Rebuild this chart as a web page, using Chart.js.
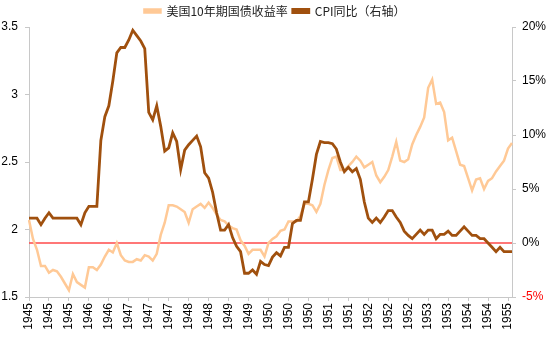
<!DOCTYPE html>
<html>
<head>
<meta charset="utf-8">
<script src="https://cdn.jsdelivr.net/npm/chart.js@4/dist/chart.umd.min.js"></script>
<style>
	html, body { margin: 0; padding: 0; background: #fff; }
	#wrap { width: 550px; height: 337px; }
</style>
</head>
<body>
<div id="wrap"><canvas id="cpi-yield-chart"></canvas></div>
<script>
// monthly, 1945-01 .. 1955-02
const months = [];
for (let i = 0; i < 122; i++) {
	let y = 1945 + Math.floor(i / 12);
	let m = (i % 12) + 1;
	months.push(y + '-' + (m < 10 ? '0' + m : m));
}

// US 10y treasury yield (left axis)
const yield_10y = [
	2.07, 1.93, 1.85, 1.73, 1.73, 1.68, 1.70, 1.69, 1.65, 1.60, 1.55, 1.67,
	1.61, 1.59, 1.57, 1.72, 1.72, 1.70, 1.74, 1.80, 1.85, 1.83, 1.90, 1.81,
	1.77, 1.76, 1.76, 1.78, 1.77, 1.81, 1.80, 1.77, 1.82, 1.96, 2.05, 2.18,
	2.18, 2.17, 2.15, 2.13, 2.05, 2.15, 2.17, 2.19, 2.16, 2.20, 2.16, 2.11,
	2.07, 2.06, 2.03, 2.01, 2.00, 1.92, 1.88, 1.82, 1.85, 1.85, 1.85, 1.80,
	1.90, 1.93, 1.95, 1.99, 2.00, 2.06, 2.06, 2.06, 2.10, 2.19, 2.19, 2.18,
	2.13, 2.19, 2.33, 2.44, 2.53, 2.54, 2.44, 2.44, 2.47, 2.50, 2.54, 2.51,
	2.46, 2.48, 2.50, 2.40, 2.35, 2.39, 2.44, 2.54, 2.65, 2.51, 2.50, 2.52,
	2.63, 2.70, 2.76, 2.83, 3.05, 3.11, 2.93, 2.94, 2.87, 2.66, 2.68, 2.58,
	2.48, 2.47, 2.38, 2.29, 2.37, 2.38, 2.30, 2.36, 2.38, 2.43, 2.47, 2.51,
	2.60, 2.64,
];

// CPI yoy, % (right axis)
const cpi_yoy = [
	2.3, 2.3, 2.3, 1.7, 2.3, 2.8, 2.3, 2.3, 2.3, 2.3, 2.3, 2.3,
	2.3, 1.7, 2.8, 3.4, 3.4, 3.4, 9.5, 11.7, 12.7, 15.0, 17.6, 18.1,
	18.1, 18.8, 19.7, 19.2, 18.7, 18.0, 12.1, 11.4, 12.7, 10.8, 8.5, 8.8,
	10.2, 9.4, 6.8, 8.6, 9.1, 9.5, 9.9, 8.9, 6.5, 6.0, 4.7, 2.8,
	1.2, 1.2, 1.7, 0.5, -0.3, -0.8, -2.8, -2.8, -2.5, -2.9, -1.7, -2.0,
	-2.1, -1.3, -0.9, -1.2, -0.4, -0.4, 1.8, 2.1, 2.1, 3.8, 3.8, 5.9,
	8.2, 9.4, 9.3, 9.3, 9.2, 8.7, 7.5, 6.6, 7.0, 6.6, 6.9, 5.9,
	3.8, 2.3, 1.9, 2.3, 1.9, 2.4, 3.0, 3.0, 2.4, 1.9, 1.1, 0.7,
	0.4, 0.8, 1.2, 0.8, 1.2, 1.2, 0.4, 0.8, 0.8, 1.1, 0.7, 0.7,
	1.1, 1.5, 1.1, 0.7, 0.7, 0.4, 0.4, 0.0, -0.4, -0.8, -0.4, -0.8,
	-0.8, -0.8,
];

const zero_line = months.map(() => 0);

const series_names = ['美国10年期国债收益率', 'CPI同比（右轴）'];

const tick_font = { family: "'Liberation Sans', Arial, sans-serif", size: 12 };
const axis_color = '#c8c8c8';

var ctx = document.getElementById('cpi-yield-chart').getContext('2d');
var chart = new Chart(ctx, {
	type: 'line',
	data: {
		labels: months,
		datasets: [
			{
				label: series_names[0],
				data: yield_10y,
				yAxisID: 'y',
				borderColor: '#FFC996',
				backgroundColor: '#FFC996',
				borderWidth: 2.5,
				pointRadius: 0,
				tension: 0,
				order: 2,
			},
			{
				label: series_names[1],
				data: cpi_yoy,
				yAxisID: 'y1',
				borderColor: '#A0500E',
				backgroundColor: '#A0500E',
				borderWidth: 2.8,
				pointRadius: 0,
				tension: 0,
				order: 1,
			},
			{
				label: 'zero',
				data: zero_line,
				yAxisID: 'y1',
				borderColor: '#FF4A4A',
				borderWidth: 1.5,
				pointRadius: 0,
				order: 3,
			},
		],
	},
	options: {
		responsive: true,
		maintainAspectRatio: false,
		animation: false,
		layout: { padding: { top: 0, left: 0, right: 0, bottom: 0 } },
		plugins: {
			tooltip: { enabled: false },
			legend: {
				position: 'top',
				labels: {
					boxWidth: 16,
					boxHeight: 3,
					padding: 5,
					color: '#222',
					font: { family: "'Noto Sans CJK SC', sans-serif", size: 12 },
					filter: (item) => item.datasetIndex < 2,
					sort: (a, b) => a.datasetIndex - b.datasetIndex,
				},
			},
		},
		scales: {
			x: {
				type: 'category',
				offset: false,
				afterFit: (scale) => { scale.height = 40; },
				border: { display: true, color: axis_color },
				grid: { display: true, drawOnChartArea: false, drawTicks: true, tickLength: 4, color: axis_color },
				ticks: {
					autoSkip: false,
					minRotation: 90,
					maxRotation: 90,
					padding: 2,
					color: '#000',
					font: tick_font,
					callback: function(value, index) {
						return index % 5 === 0 ? months[index].slice(0, 4) : null;
					},
				},
			},
			y: {
				position: 'left',
				min: 1.5,
				max: 3.5,
				afterFit: (scale) => { scale.width = 29; },
				border: { display: true, color: axis_color },
				grid: { display: true, drawOnChartArea: false, tickLength: 4, color: axis_color },
				ticks: {
					stepSize: 0.5,
					padding: 7,
					color: '#000',
					font: tick_font,
					callback: (v) => String(parseFloat(v.toFixed(1))),
				},
			},
			y1: {
				position: 'right',
				min: -5,
				max: 20,
				afterFit: (scale) => { scale.width = 38; },
				border: { display: true, color: axis_color },
				grid: { display: true, drawOnChartArea: false, tickLength: 4, color: axis_color },
				ticks: {
					stepSize: 5,
					padding: 6,
					font: tick_font,
					color: (c) => (c.tick && c.tick.value === -5 ? '#FF0000' : '#000'),
					callback: (v) => v + '%',
				},
			},
		},
	},
});
</script>
</body>
</html>
